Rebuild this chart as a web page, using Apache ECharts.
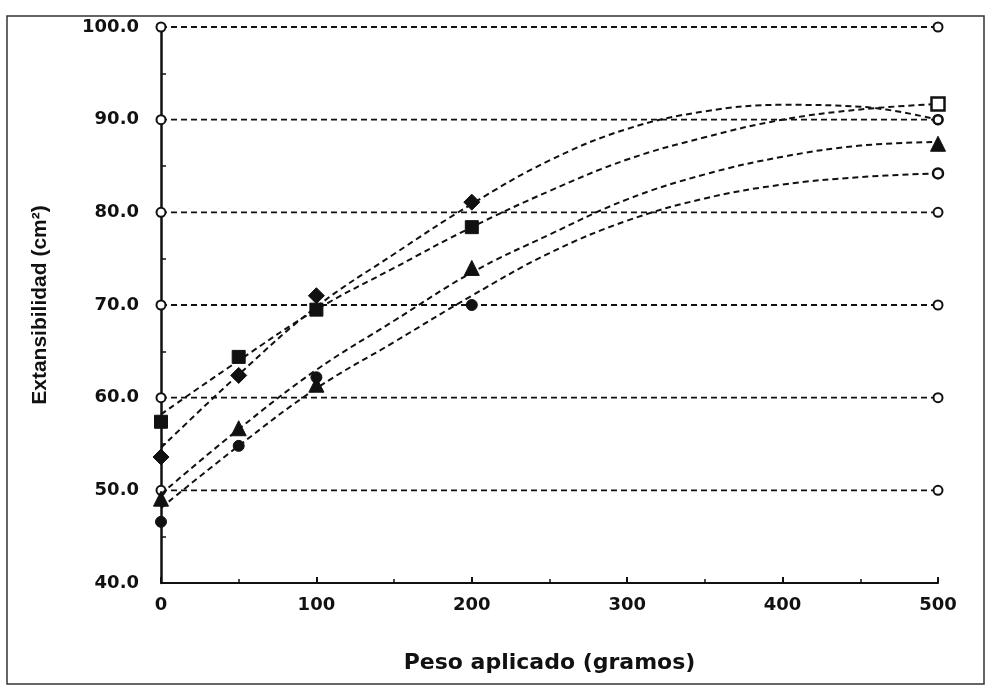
<!DOCTYPE html>
<html>
<head>
<meta charset="utf-8">
<script src="https://cdn.jsdelivr.net/npm/echarts@6/dist/echarts.min.js"></script>
<style>
html,body{margin:0;padding:0;background:#fff;}
#chart{width:995px;height:690px;}
</style>
</head>
<body>
<div id="chart"></div>
<script>
// ---- data ----
const xPoints = [0, 50, 100, 200, 500];
const diamondVals = [53.6, 62.4, 71.0, 81.1, 90.0];
const squareVals = [57.4, 64.4, 69.5, 78.4, 91.7];
const triangleVals = [49.1, 56.7, 61.4, 74.0, 87.4];
const circleVals = [46.6, 54.8, 62.2, 70.0, 84.2];

// dashed trend curves at these weights
const trendX = [0, 50, 100, 150, 200, 250, 300, 350, 400, 450, 500];
const diamondTrend = [54.6, 62.5, 69.8, 75.5, 80.9, 85.6, 89.0, 90.9, 91.6, 91.4, 90.0];
const squareTrend = [58.2, 64.0, 69.5, 74.0, 78.4, 82.3, 85.7, 88.1, 90.0, 91.1, 91.7];
const triangleTrend = [49.6, 56.6, 63.0, 68.3, 73.5, 77.6, 81.4, 84.1, 86.0, 87.2, 87.6];
const circleTrend = [48.1, 54.8, 61.0, 66.0, 71.0, 75.6, 79.1, 81.5, 83.0, 83.8, 84.2];

const yTicks = [40, 50, 60, 70, 80, 90, 100];
const xTicks = [0, 100, 200, 300, 400, 500];
const refLevels = [50, 60, 70, 80, 90, 100];

const xTitle = 'Peso aplicado (gramos)';
const yTitle = 'Extansibilidad (cm²)';

// ---- chart ----
const chart = echarts.init(document.getElementById('chart'));
const pairs = (xs, ys) => xs.map((x, i) => [x, ys[i]]);
const font = '"DejaVu Sans", "Liberation Sans", Arial, sans-serif';
const dash = { type: [6, 4], width: 2, color: '#111' };

const series = [];
// horizontal reference lines with open circles at the ends
refLevels.forEach(v => {
  series.push({
    type: 'line', name: 'ref' + v,
    data: [[xTicks[0], v], [xTicks[xTicks.length - 1], v]],
    symbol: 'circle', symbolSize: 9,
    itemStyle: { color: '#fff', borderColor: '#111', borderWidth: 2 },
    lineStyle: { type: [6, 4], width: 1.8, color: '#111' },
    silent: true, z: 2
  });
});
// trend curves
[diamondTrend, squareTrend, triangleTrend, circleTrend].forEach((t, k) => {
  series.push({
    type: 'line', name: 'trend' + k,
    data: pairs(trendX, t), smooth: 0.4, showSymbol: false, symbol: 'none',
    lineStyle: dash, silent: true, z: 3
  });
});
// markers
function markerSeries(name, vals, symbol, size, lastStyle) {
  return {
    type: 'line', name: name,
    data: pairs(xPoints, vals).map((p, i) => {
      const d = { value: p };
      if (i === xPoints.length - 1 && lastStyle) Object.assign(d, lastStyle);
      return d;
    }),
    lineStyle: { width: 0, opacity: 0 },
    symbol: symbol, symbolSize: size,
    itemStyle: { color: '#111', borderColor: '#111', borderWidth: 1 },
    z: 5
  };
}
series.push(markerSeries('Diamond', diamondVals, 'diamond', 16,
  { symbol: 'circle', symbolSize: 9, itemStyle: { color: '#fff', borderColor: '#111', borderWidth: 2.5 } }));
series.push(markerSeries('Square', squareVals, 'rect', 13,
  { itemStyle: { color: '#fff', borderColor: '#111', borderWidth: 2.5 } }));
series.push(markerSeries('Triangle', triangleVals, 'triangle', 15, null));
series.push(markerSeries('Circle', circleVals, 'circle', 11,
  { symbolSize: 10, itemStyle: { color: '#fff', borderColor: '#111', borderWidth: 2.5 } }));

chart.setOption({
  animation: false,
  backgroundColor: '#fff',
  grid: { left: 161, right: 57, top: 27, bottom: 107, containLabel: false },
  graphic: [{
    type: 'rect', shape: { x: 7, y: 16, width: 977, height: 668 },
    style: { fill: 'none', stroke: '#333', lineWidth: 1.5 }, silent: true
  }],
  xAxis: {
    type: 'value', min: xTicks[0], max: xTicks[xTicks.length - 1], interval: 100,
    name: xTitle, nameLocation: 'middle', nameGap: 69,
    nameTextStyle: { fontFamily: font, fontWeight: 'bold', fontSize: 22, color: '#111' },
    axisLine: { show: true, onZero: false, lineStyle: { color: '#111', width: 2 } },
    axisTick: { show: true, inside: true, length: 6, lineStyle: { color: '#111', width: 2 } },
    minorTick: { show: true, splitNumber: 2, length: 4, lineStyle: { color: '#111', width: 1.5 } },
    axisLabel: { margin: 13, fontFamily: font, fontWeight: 'bold', fontSize: 18, color: '#111' },
    splitLine: { show: false }
  },
  yAxis: {
    type: 'value', min: yTicks[0], max: yTicks[yTicks.length - 1], interval: 10,
    name: yTitle, nameLocation: 'middle', nameGap: 110, nameRotate: 90,
    nameTextStyle: { fontFamily: '"Liberation Sans", Arial, sans-serif', fontWeight: 'bold', fontSize: 21, color: '#111' },
    axisLine: { show: true, onZero: false, lineStyle: { color: '#111', width: 2.5 } },
    axisTick: { show: true, inside: true, length: 5, lineStyle: { color: '#111', width: 2 } },
    minorTick: { show: true, splitNumber: 2, length: 5, lineStyle: { color: '#111', width: 1.5 } },
    axisLabel: {
      margin: 22, fontFamily: font, fontWeight: 'bold', fontSize: 18, color: '#111',
      formatter: v => v.toFixed(1)
    },
    splitLine: { show: false }
  },
  series: series
});
</script>
</body>
</html>
